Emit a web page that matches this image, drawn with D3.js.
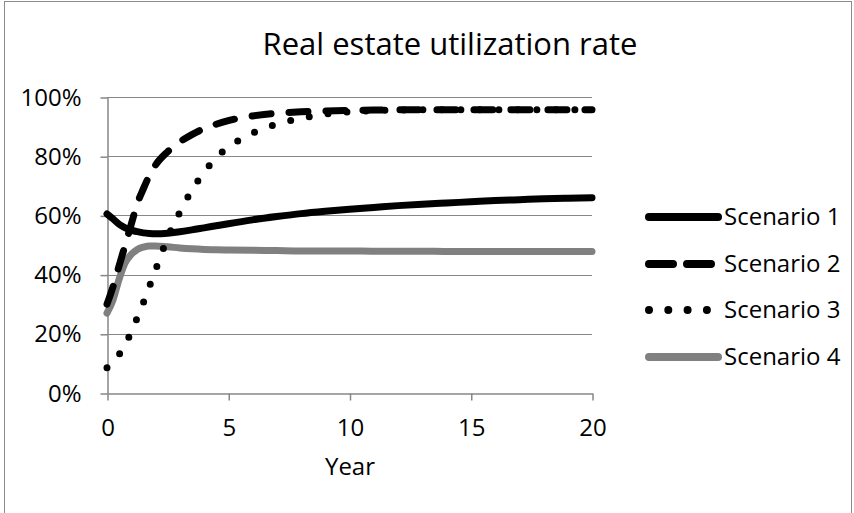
<!DOCTYPE html>
<html>
<head>
<meta charset="utf-8">
<script src="https://cdn.jsdelivr.net/npm/d3@7"></script>
<style>
  html, body { margin: 0; padding: 0; background: #fff; }
  svg { display: block; }
  text { font-family: "Open Sans", "Liberation Sans", sans-serif; fill: #000; }
</style>
</head>
<body>
<svg id="chart" width="854" height="513"></svg>
<script>
// Years simulated
const years = [0, 0.25, 0.5, 0.75, 1, 1.25, 1.5, 1.75, 2, 2.5, 3, 3.5, 4, 4.5, 5, 6, 7, 8, 9, 10, 11, 12, 13, 14, 15, 16, 17, 18, 19, 20];

// Utilization rate per scenario (fraction), one value per year above
const scenario1 = [0.605, 0.588, 0.570, 0.558, 0.550, 0.545, 0.541, 0.539, 0.538, 0.540, 0.545, 0.551, 0.558, 0.565, 0.572, 0.585, 0.596, 0.606, 0.614, 0.621, 0.627, 0.633, 0.638, 0.642, 0.646, 0.650, 0.653, 0.656, 0.658, 0.660];
const scenario2 = [0.300, 0.360, 0.430, 0.500, 0.570, 0.640, 0.690, 0.735, 0.770, 0.815, 0.848, 0.873, 0.893, 0.908, 0.920, 0.936, 0.945, 0.950, 0.953, 0.955, 0.956, 0.957, 0.957, 0.957, 0.957, 0.957, 0.957, 0.957, 0.957, 0.957];
const scenario3 = [0.085, 0.105, 0.130, 0.165, 0.205, 0.255, 0.305, 0.360, 0.415, 0.525, 0.610, 0.685, 0.745, 0.795, 0.830, 0.878, 0.908, 0.928, 0.942, 0.950, 0.954, 0.956, 0.957, 0.957, 0.957, 0.957, 0.957, 0.957, 0.957, 0.957];
const scenario4 = [0.270, 0.315, 0.385, 0.440, 0.468, 0.485, 0.493, 0.497, 0.497, 0.494, 0.490, 0.487, 0.485, 0.484, 0.483, 0.482, 0.481, 0.480, 0.480, 0.480, 0.479, 0.479, 0.479, 0.478, 0.478, 0.478, 0.478, 0.478, 0.478, 0.478];

const seriesNames = ["Scenario 1", "Scenario 2", "Scenario 3", "Scenario 4"];
const xTicks = [0, 5, 10, 15, 20];
const yTicks = [0, 0.2, 0.4, 0.6, 0.8, 1.0];
const titleText = "Real estate utilization rate";
const xAxisTitle = "Year";

const svg = d3.select("#chart");
const plot = { left: 107, right: 592, top: 97, bottom: 393 };
const labelSize = 24;

// Outer chart border
svg.append("rect")
  .attr("x", 4.5).attr("y", 1.5)
  .attr("width", 847).attr("height", 520)
  .attr("fill", "#fff").attr("stroke", "#8c8c8c").attr("stroke-width", 1);

const x = d3.scaleLinear().domain([0, 20]).range([plot.left, plot.right]);
const y = d3.scaleLinear().domain([0, 1]).range([plot.bottom, plot.top]);

const gridColor = "#878787";

// Horizontal gridlines
svg.append("g")
  .selectAll("line")
  .data(yTicks.filter(t => t > 0))
  .join("line")
  .attr("x1", plot.left).attr("x2", plot.right)
  .attr("y1", d => Math.round(y(d)) + 0.5).attr("y2", d => Math.round(y(d)) + 0.5)
  .attr("stroke", gridColor).attr("stroke-width", 1);

// Y axis
const yAxis = svg.append("g")
  .attr("transform", `translate(${plot.left + 0.5},0.5)`)
  .call(d3.axisLeft(y).tickValues(yTicks).tickFormat(d3.format(".0%")).tickSizeInner(7).tickSizeOuter(0).tickPadding(19));
yAxis.select(".domain").attr("stroke", gridColor).attr("stroke-width", 1.5);
yAxis.selectAll(".tick line").attr("stroke", gridColor).attr("stroke-width", 1.5);
yAxis.selectAll(".tick text").attr("font-size", labelSize).attr("font-family", "Open Sans, sans-serif").attr("fill", "#000");

// X axis
const xAxis = svg.append("g")
  .attr("transform", `translate(0.5,${plot.bottom + 0.5})`)
  .call(d3.axisBottom(x).tickValues(xTicks).tickFormat(d3.format("d")).tickSizeInner(7).tickSizeOuter(0).tickPadding(18));
xAxis.select(".domain").attr("stroke", gridColor).attr("stroke-width", 1.5);
xAxis.selectAll(".tick line").attr("stroke", gridColor).attr("stroke-width", 1.5);
xAxis.selectAll(".tick text").attr("font-size", labelSize).attr("font-family", "Open Sans, sans-serif").attr("fill", "#000");

// Series styles
const styles = [
  { color: "#000", dash: null, width: 7 },
  { color: "#000", dash: "19,18", width: 7 },
  { color: "#000", dash: "0,19", width: 7 },
  { color: "#808080", dash: null, width: 7 }
];
const legendDash = [null, "24,14", "0,19.3", null];

const allSeries = [scenario1, scenario2, scenario3, scenario4];

const line = d3.line()
  .x((d, i) => x(years[i]))
  .y(d => y(d))
  .curve(d3.curveMonotoneX);

// Draw from last to first so Scenario 1 sits on top
const drawOrder = [3, 2, 1, 0];
svg.append("g")
  .selectAll("path")
  .data(drawOrder)
  .join("path")
  .attr("d", i => line(allSeries[i]))
  .attr("fill", "none")
  .attr("stroke", i => styles[i].color)
  .attr("stroke-width", i => styles[i].width)
  .attr("stroke-dasharray", i => styles[i].dash)
  .attr("stroke-linecap", "round")
  .attr("stroke-linejoin", "round");

// Legend
const legend = svg.append("g");
const legendY = [217, 264, 310, 357];
seriesNames.forEach((name, i) => {
  const g = legend.append("g").attr("transform", `translate(0,${legendY[i]})`);
  g.append("line")
    .attr("x1", 649).attr("x2", 718)
    .attr("y1", 0).attr("y2", 0)
    .attr("stroke", styles[i].color)
    .attr("stroke-width", 8)
    .attr("stroke-dasharray", legendDash[i])
    .attr("stroke-linecap", "round");
  g.append("text")
    .attr("x", 724).attr("y", 0)
    .attr("dy", "0.35em")
    .attr("font-size", labelSize)
    .text(name);
});

// Title
svg.append("text")
  .attr("x", 450).attr("y", 55)
  .attr("text-anchor", "middle")
  .attr("font-size", 31)
  .text(titleText);

// X axis title
svg.append("text")
  .attr("x", 350).attr("y", 475)
  .attr("text-anchor", "middle")
  .attr("font-size", labelSize)
  .text(xAxisTitle);
</script>
</body>
</html>
